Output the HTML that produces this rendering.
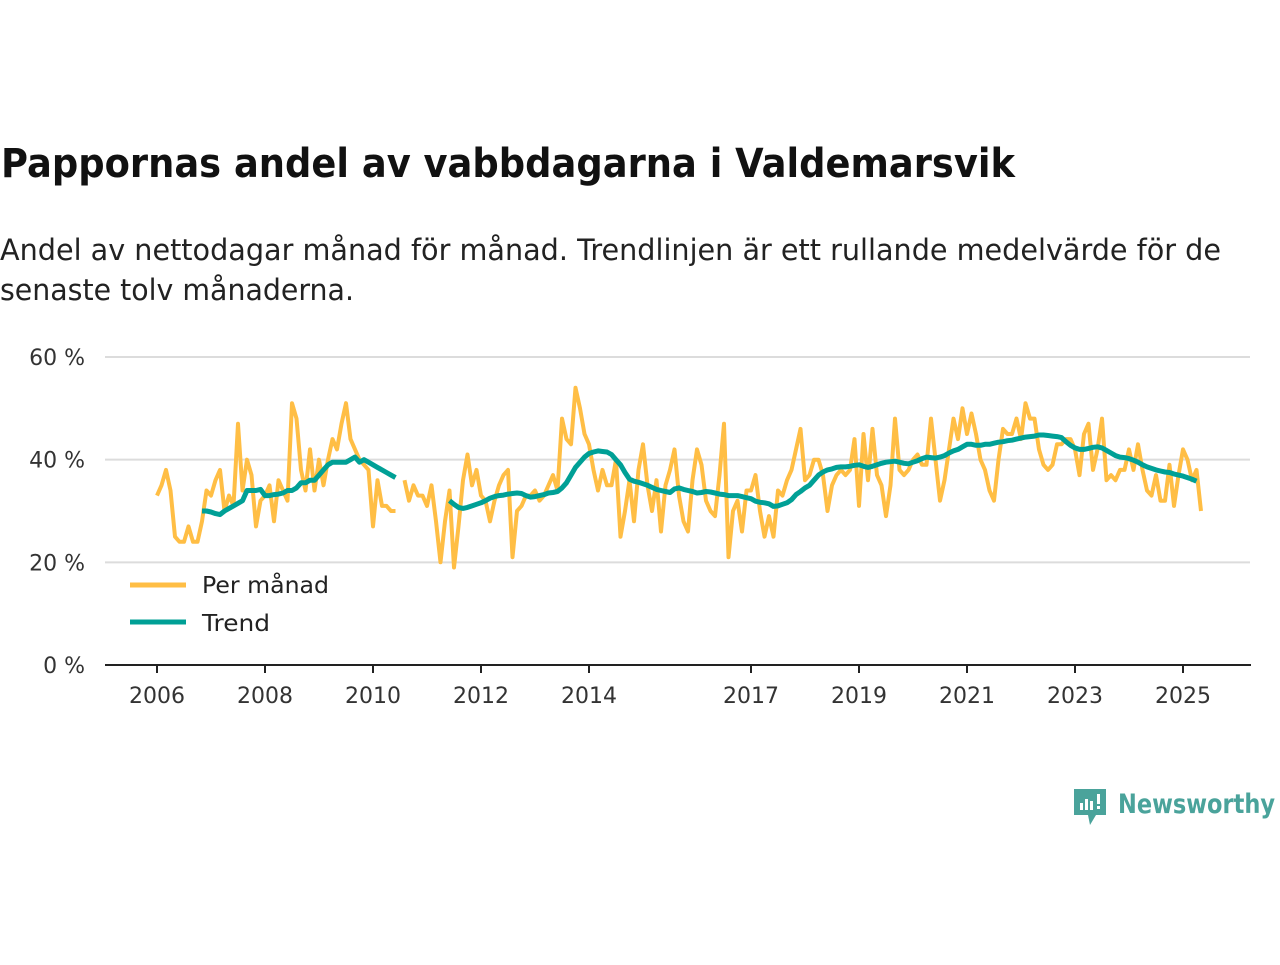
<!DOCTYPE html>
<html><head><meta charset="utf-8"><style>
body{margin:0;background:#fff;width:1280px;height:960px;overflow:hidden;font-family:"Liberation Sans","DejaVu Sans",sans-serif}
svg text{font-family:"DejaVu Sans","Liberation Sans",sans-serif}
</style></head><body>
<svg id="c" width="1280" height="960">
<text x="1" y="177" font-size="40" font-weight="bold" fill="#111" textLength="1014" lengthAdjust="spacingAndGlyphs">Pappornas andel av vabbdagarna i Valdemarsvik</text>
<text x="0" y="260" font-size="29" fill="#222" textLength="1221" lengthAdjust="spacingAndGlyphs">Andel av nettodagar månad för månad. Trendlinjen är ett rullande medelvärde för de</text>
<text x="0" y="300" font-size="29" fill="#222" textLength="354" lengthAdjust="spacingAndGlyphs">senaste tolv månaderna.</text>
<g id="grid"></g><g id="xax"></g><g id="series"></g>
<g>
<line x1="130" y1="585" x2="186" y2="585" stroke="#ffbe45" stroke-width="5"/>
<text x="202" y="593" font-size="23" fill="#222" textLength="127" lengthAdjust="spacingAndGlyphs">Per månad</text>
<line x1="130" y1="622" x2="186" y2="622" stroke="#00a096" stroke-width="5"/>
<text x="202" y="631" font-size="23" fill="#222" textLength="68" lengthAdjust="spacingAndGlyphs">Trend</text>
</g>
<g>
<path d="M1074 789h32v26h-10l-6 10l-2-10h-14z" fill="#4aa39b"/>
<rect x="1080" y="803" width="3" height="7" fill="#fff"/><rect x="1085" y="799" width="3" height="11" fill="#fff"/><rect x="1090" y="801" width="3" height="9" fill="#fff"/><rect x="1097" y="794" width="3" height="10" fill="#fff"/><rect x="1097" y="806" width="3" height="3" fill="#fff"/>
<text x="1118" y="813" font-size="27" font-weight="bold" fill="#4aa39b" textLength="157" lengthAdjust="spacingAndGlyphs">Newsworthy</text>
</g>
</svg>
<script>
const yTicks=[0,20,40,60];
const yTickLabels=["0 %","20 %","40 %","60 %"];
const xTickYears=[2006,2008,2010,2012,2014,2017,2019,2021,2023,2025];
const startYear=2006;
const monthly=[33,35,38,34,25,24,24,27,24,24,28,34,
33,36,38,30,33,31,47,34,40,37,27,32,
33,35,28,36,34,32,51,48,38,34,42,34,
40,35,40,44,42,47,51,44,42,40,39,38,
27,36,31,31,30,30,null,
36,32,35,33,33,31,35,28,20,28,34,
19,27,36,41,35,38,33,32,28,32,35,37,38,21,
30,31,33,33,34,32,33,35,37,34,
48,44,43,54,50,45,43,38,34,
38,35,35,40,25,30,36,28,38,43,35,30,36,26,35,38,42,33,28,26,36,42,39,32,30,29,37,47,21,30,32,26,34,34,37,30,25,29,25,
34,33,36,38,42,46,36,37,40,40,37,30,35,37,38,37,38,44,31,45,36,46,37,35,29,35,48,38,37,38,40,41,39,39,48,40,32,36,42,48,44,50,45,49,45,40,38,34,32,40,46,45,45,48,44,51,48,48,42,39,38,39,43,43,44,44,42,37,45,47,38,42,48,36,37,36,38,38,42,38,43,38,34,33,37,32,32,39,31,37,42,40,36,38,30];
const trendA=[30,30,29.8,29.5,29.3,30,30.5,31,31.5,32,34,34,34,34.2,33,33,33.2,33.3,33.5,34,34,34.5,35.5,35.5,36,36,37,38,39,39.5,39.5,39.5,39.5,40,40.5,39.5,40,39.5,39,38.5,38,37.5,37,36.5];
const trendB=[32,31.3,30.7,30.5,30.7,31,31.3,31.6,32,32.5,32.8,33,33.1,33.3,33.4,33.5,33.4,33,32.7,32.8,33,33.2,33.5,33.6,33.8,34.5,35.5,37,38.5,39.5,40.5,41.2,41.5,41.7,41.6,41.5,41,40,39,37.5,36.2,35.8,35.6,35.3,35,34.6,34.2,34,33.8,33.6,34.3,34.5,34.2,34,33.8,33.5,33.6,33.8,33.7,33.5,33.3,33.2,33,33,33,32.8,32.6,32.4,31.9,31.7,31.6,31.4,30.9,31,31.3,31.6,32.2,33.2,33.8,34.5,35,36,37,37.6,38,38.2,38.5,38.6,38.6,38.7,38.9,39,38.7,38.5,38.7,39,39.3,39.5,39.6,39.7,39.5,39.3,39.2,39.5,39.8,40.2,40.5,40.4,40.3,40.5,40.8,41.3,41.7,42,42.5,43,43,42.8,42.8,43,43,43.2,43.4,43.5,43.7,43.8,44,44.2,44.4,44.5,44.6,44.8,44.8,44.7,44.6,44.5,44.3,43.5,42.8,42.3,42,42,42.2,42.4,42.5,42.3,41.8,41.3,40.8,40.5,40.4,40.2,39.9,39.5,39,38.6,38.3,38,37.8,37.6,37.5,37.2,37,36.8,36.5,36.2,35.8];
const trendAStart=10, trendBStart=65;
const NS="http://www.w3.org/2000/svg";
const y=v=>665-v*(308/60);
const x=m=>157+m*4.5;
const xYear=yr=>157+(yr-startYear)*54;
function mk(t,a,p){const e=document.createElementNS(NS,t);for(const k in a)e.setAttribute(k,a[k]);p.appendChild(e);return e;}
const grid=document.getElementById('grid');
yTicks.forEach((v,i)=>{
 if(v>0){const l=mk('line',{x1:105,x2:1250,y1:y(v),y2:y(v),stroke:'#dcdcdc','stroke-width':2},grid);
 
 }
 const t=mk('text',{x:85,y:y(v)+8,'font-size':22,'text-anchor':'end',fill:'#333'},grid);t.textContent=yTickLabels[i];
 
 
});
const xax=document.getElementById('xax');
const ax=mk('line',{x1:105,x2:1251,y1:665,y2:665,stroke:'#222','stroke-width':2},xax);


xTickYears.forEach(yr=>{
 mk('line',{x1:xYear(yr),x2:xYear(yr),y1:665,y2:673,stroke:'#222','stroke-width':2},xax);
 const t=mk('text',{x:xYear(yr),y:703,'font-size':22,'text-anchor':'middle',fill:'#333'},xax);t.textContent=yr;
 
 
});
function path(vals,start){let d='',pen=false;vals.forEach((v,i)=>{if(v==null){pen=false;return;}d+=(pen?'L':'M')+x(start+i).toFixed(1)+' '+y(v).toFixed(1);pen=true;});return d;}
const s=document.getElementById('series');
const pm=mk('path',{d:path(monthly,0),fill:'none',stroke:'#ffbe45','stroke-width':4,'stroke-linejoin':'round'},s);


[[trendA,trendAStart],[trendB,trendBStart]].forEach(([a,st])=>{
 const p=mk('path',{d:path(a,st),fill:'none',stroke:'#00a096','stroke-width':5,'stroke-linejoin':'round'},s);
 
 
});
</script>
</body></html>
